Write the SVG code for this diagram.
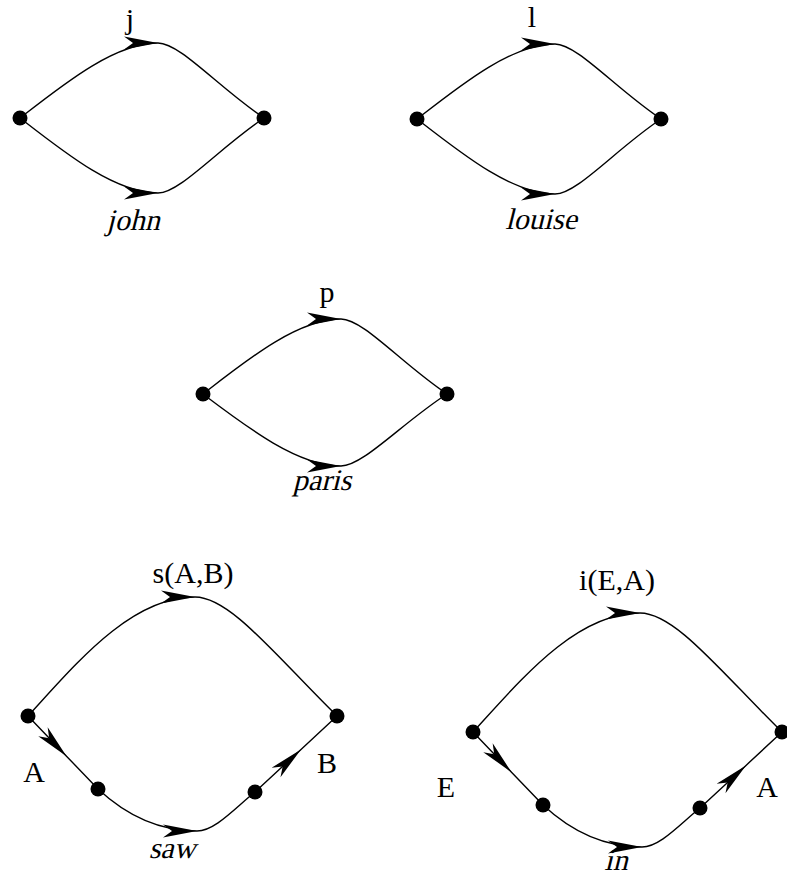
<svg xmlns="http://www.w3.org/2000/svg" width="787" height="876" viewBox="0 0 787 876">
<style>
.e{fill:none;stroke:#000;stroke-width:1.4}
.n{fill:#000}
.t{font-family:"Liberation Serif",serif;font-size:30px;fill:#000;text-anchor:middle}
</style>
<defs>
<marker id="ah" markerUnits="userSpaceOnUse" markerWidth="40" markerHeight="20" refX="0" refY="0" orient="auto" overflow="visible">
<path d="M0,0 L-34,-6.5 L-25,0 L-34,6.5 Z" fill="#000"/>
</marker>
</defs>
<rect width="787" height="876" fill="#fff"/>
<g id="connectors">
<path class="e" d="M20,118 C65,83 115,43 158,43" marker-end="url(#ah)"/>
<path class="e" d="M158,43 C180,43 219,88 264,118"/>
<path class="e" d="M20,118 C65,153 115,193 158,193" marker-end="url(#ah)"/>
<path class="e" d="M158,193 C180,193 219,148 264,118"/>
<path class="e" d="M417,119 C462,84 512,44 555,44" marker-end="url(#ah)"/>
<path class="e" d="M555,44 C577,44 616,89 661,119"/>
<path class="e" d="M417,119 C462,154 512,194 555,194" marker-end="url(#ah)"/>
<path class="e" d="M555,194 C577,194 616,149 661,119"/>
<path class="e" d="M203,394 C248,359 298,319 341,319" marker-end="url(#ah)"/>
<path class="e" d="M341,319 C363,319 402,364 447,394"/>
<path class="e" d="M203,394 C248,428 298,466 341,466" marker-end="url(#ah)"/>
<path class="e" d="M341,466 C363,466 402,423 447,394"/>
<path class="e" d="M28,716 C75,665 130,597 195,597" marker-end="url(#ah)"/>
<path class="e" d="M195,597 C230,597 275,655 337,716"/>
<path class="e" d="M28,716 L66.5,756.2 L98,789" marker-mid="url(#ah)"/>
<path class="e" d="M98,789 C128,817 160,831 197,831" marker-end="url(#ah)"/>
<path class="e" d="M197,831 C215,831 235,808 255,792"/>
<path class="e" d="M255,792 L301,749.4 L337,716" marker-mid="url(#ah)"/>
<path class="e" d="M473,732 C520,681 575,613 640,613" marker-end="url(#ah)"/>
<path class="e" d="M640,613 C675,613 720,671 782,732"/>
<path class="e" d="M473,732 L511.5,772.2 L543,805" marker-mid="url(#ah)"/>
<path class="e" d="M543,805 C573,833 605,847 642,847" marker-end="url(#ah)"/>
<path class="e" d="M642,847 C660,847 680,824 700,808"/>
<path class="e" d="M700,808 L746,765.4 L782,732" marker-mid="url(#ah)"/>
</g>
<g id="labels">
<text class="t" x="130" y="29">j</text>
<text class="t" transform="translate(133,230) skewX(-14)">john</text>
<text class="t" x="532" y="27">l</text>
<text class="t" transform="translate(541,229) skewX(-14)">louise</text>
<text class="t" x="327" y="302">p</text>
<text class="t" transform="translate(322,490) skewX(-14)">paris</text>
<text class="t" x="193" y="583">s(A,B)</text>
<text class="t" x="34" y="782">A</text>
<text class="t" x="327" y="773">B</text>
<text class="t" transform="translate(172,858) skewX(-14)">saw</text>
<text class="t" x="617" y="590">i(E,A)</text>
<text class="t" x="446" y="797">E</text>
<text class="t" x="767" y="797">A</text>
<text class="t" transform="translate(616,870) skewX(-14)">in</text>
</g>
<g id="node-john-l"><circle class="n" cx="20" cy="118" r="7.5"/></g>
<g id="node-john-r"><circle class="n" cx="264" cy="118" r="7.5"/></g>
<g id="node-louise-l"><circle class="n" cx="417" cy="119" r="7.5"/></g>
<g id="node-louise-r"><circle class="n" cx="661" cy="119" r="7.5"/></g>
<g id="node-paris-l"><circle class="n" cx="203" cy="394" r="7.5"/></g>
<g id="node-paris-r"><circle class="n" cx="447" cy="394" r="7.5"/></g>
<g id="node-saw-l"><circle class="n" cx="28" cy="716" r="7.5"/></g>
<g id="node-saw-r"><circle class="n" cx="337" cy="716" r="7.5"/></g>
<g id="node-saw-a"><circle class="n" cx="98" cy="789" r="7.5"/></g>
<g id="node-saw-b"><circle class="n" cx="255" cy="792" r="7.5"/></g>
<g id="node-in-l"><circle class="n" cx="473" cy="732" r="7.5"/></g>
<g id="node-in-r"><circle class="n" cx="782" cy="732" r="7.5"/></g>
<g id="node-in-e"><circle class="n" cx="543" cy="805" r="7.5"/></g>
<g id="node-in-a"><circle class="n" cx="700" cy="808" r="7.5"/></g>
</svg>
